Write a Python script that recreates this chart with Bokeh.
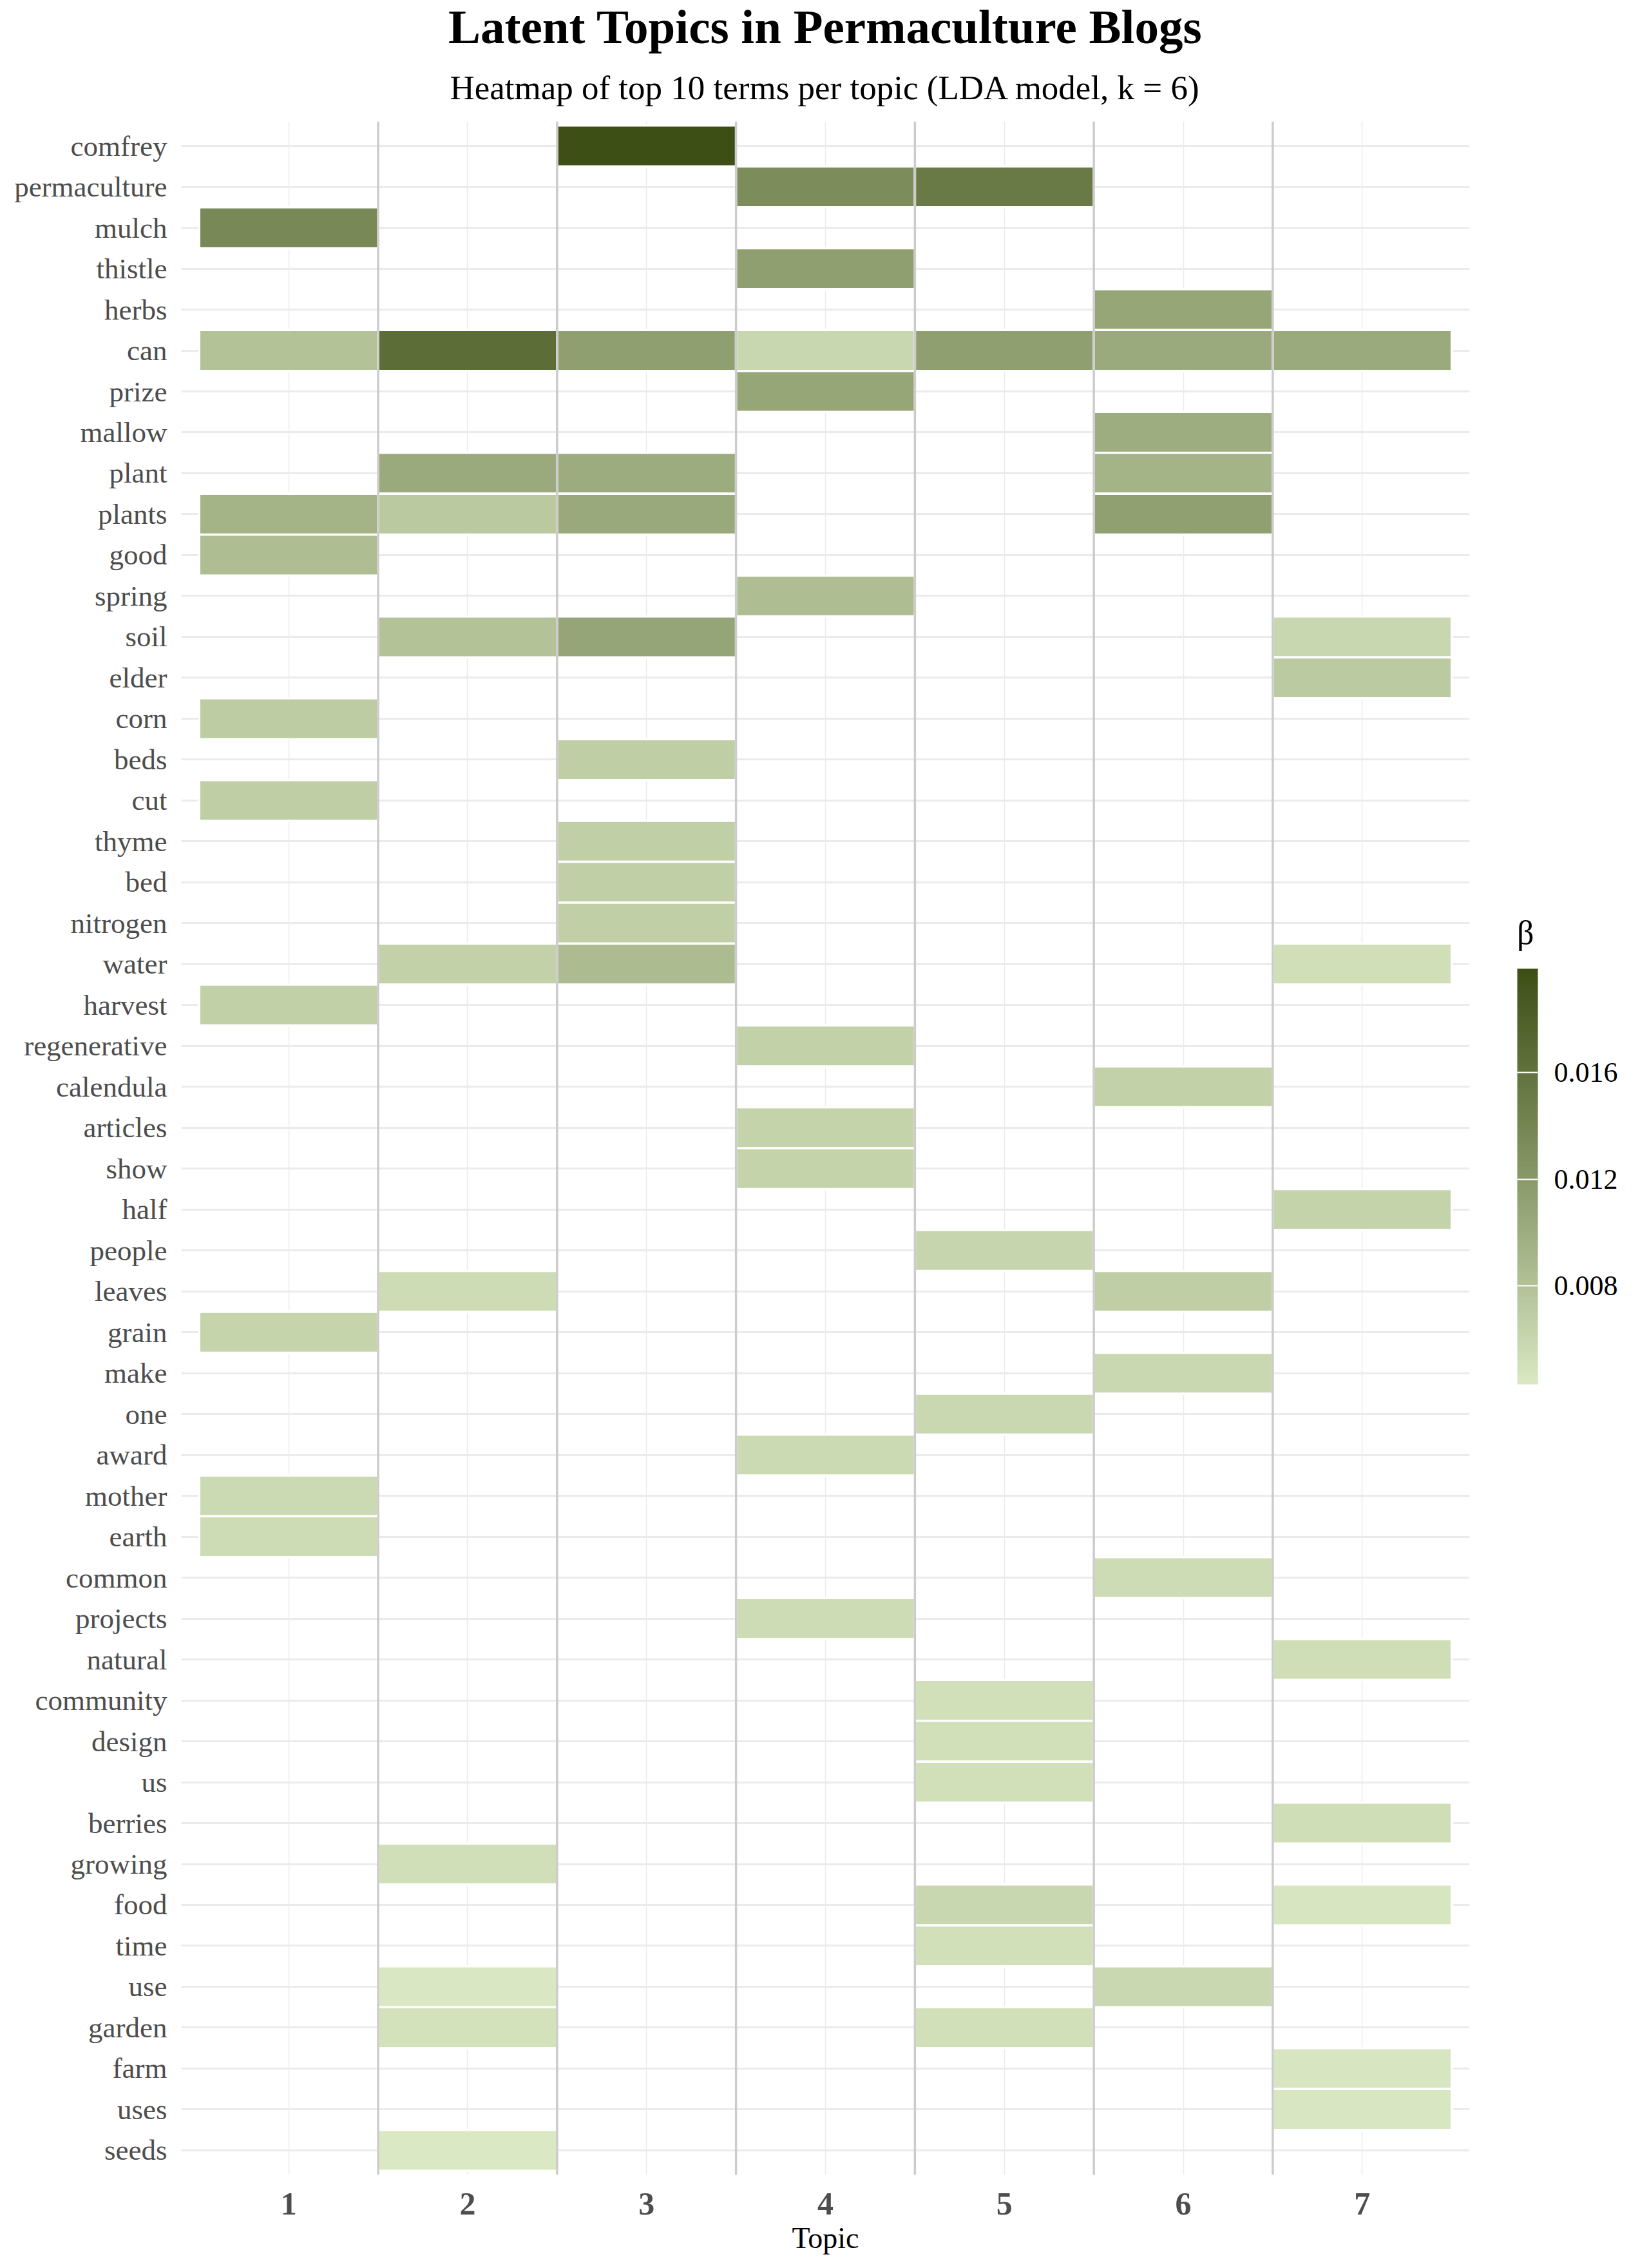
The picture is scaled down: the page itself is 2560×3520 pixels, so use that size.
import numpy as np
from bokeh.plotting import figure
from bokeh.models import (FactorRange, ColumnDataSource, LinearColorMapper, ColorBar,
                          FixedTicker, PrintfTickFormatter, Span, Title, Legend, LegendItem)
from bokeh.transform import transform
from bokeh.embed import file_html
from bokeh.resources import INLINE

# ---------------- data ----------------
title_text = "Latent Topics in Permaculture Blogs"
subtitle_text = "Heatmap of top 10 terms per topic (LDA model, k = 6)"
x_title = "Topic"
legend_title = "β"

terms = ["comfrey", "permaculture", "mulch", "thistle", "herbs", "can", "prize", "mallow",
         "plant", "plants", "good", "spring", "soil", "elder", "corn", "beds", "cut", "thyme",
         "bed", "nitrogen", "water", "harvest", "regenerative", "calendula", "articles", "show",
         "half", "people", "leaves", "grain", "make", "one", "award", "mother", "earth",
         "common", "projects", "natural", "community", "design", "us", "berries", "growing",
         "food", "time", "use", "garden", "farm", "uses", "seeds"]

topics = ["1", "2", "3", "4", "5", "6", "7"]

topic1_terms = ["mulch", "can", "plants", "good", "corn", "cut", "harvest", "grain", "mother", "earth"]
topic1_beta = [0.0137, 0.0079, 0.0093, 0.0084, 0.0070, 0.0068, 0.0066, 0.0062, 0.0057, 0.0055]

topic2_terms = ["can", "plant", "plants", "soil", "water", "leaves", "growing", "use", "garden", "seeds"]
topic2_beta = [0.0166, 0.0103, 0.0073, 0.0080, 0.0065, 0.0054, 0.0052, 0.0044, 0.0049, 0.0043]

topic3_terms = ["comfrey", "can", "plant", "plants", "soil", "beds", "thyme", "bed", "nitrogen", "water"]
topic3_beta = [0.0199, 0.0114, 0.0101, 0.0104, 0.0108, 0.0068, 0.0067, 0.0067, 0.0067, 0.0086]

topic4_terms = ["permaculture", "thistle", "can", "prize", "spring", "regenerative", "articles", "show", "award", "projects"]
topic4_beta = [0.0133, 0.0114, 0.0060, 0.0107, 0.0084, 0.0065, 0.0063, 0.0063, 0.0057, 0.0054]

topic5_terms = ["permaculture", "can", "people", "one", "community", "design", "us", "food", "time", "garden"]
topic5_beta = [0.0152, 0.0114, 0.0061, 0.0058, 0.0051, 0.0051, 0.0051, 0.0059, 0.0051, 0.0051]

topic6_terms = ["herbs", "can", "mallow", "plant", "plants", "calendula", "leaves", "make", "common", "use"]
topic6_beta = [0.0107, 0.0103, 0.0100, 0.0093, 0.0113, 0.0065, 0.0068, 0.0058, 0.0055, 0.0058]

topic7_terms = ["can", "soil", "elder", "water", "half", "natural", "berries", "food", "farm", "uses"]
topic7_beta = [0.0103, 0.0060, 0.0072, 0.0052, 0.0063, 0.0053, 0.0053, 0.0046, 0.0046, 0.0045]

colorbar_ticks = [0.008, 0.012, 0.016]
low_color = "#DAE8C3"
high_color = "#3D4F15"

# ---------------- colour ramp (CIELAB interpolation, like ggplot) ----------------
_M = np.array([[0.4124564, 0.3575761, 0.1804375],
               [0.2126729, 0.7151522, 0.0721750],
               [0.0193339, 0.1191920, 0.9503041]])
_W = np.array([0.95047, 1.0, 1.08883])


def hex_to_lab(h):
    rgb = np.array([int(h[i:i + 2], 16) for i in (1, 3, 5)]) / 255.0
    lin = np.where(rgb <= 0.04045, rgb / 12.92, ((rgb + 0.055) / 1.055) ** 2.4)
    t = (_M @ lin) / _W
    d = 6 / 29
    f = np.where(t > d ** 3, np.cbrt(t), t / (3 * d * d) + 4 / 29)
    return np.array([116 * f[1] - 16, 500 * (f[0] - f[1]), 200 * (f[1] - f[2])])


def lab_to_hex(lab):
    L, a, b = lab
    fy = (L + 16) / 116
    f = np.array([fy + a / 500, fy, fy - b / 200])
    d = 6 / 29
    t = np.where(f > d, f ** 3, 3 * d * d * (f - 4 / 29))
    lin = np.clip(np.linalg.inv(_M) @ (t * _W), 0, 1)
    rgb = np.where(lin <= 0.0031308, 12.92 * lin, 1.055 * lin ** (1 / 2.4) - 0.055)
    return "#%02x%02x%02x" % tuple(int(round(c * 255)) for c in np.clip(rgb, 0, 1))


lab_lo, lab_hi = hex_to_lab(low_color), hex_to_lab(high_color)
palette = [lab_to_hex(lab_lo + (lab_hi - lab_lo) * s) for s in np.linspace(0, 1, 256)]

# ---------------- long table ----------------
all_terms = [topic1_terms, topic2_terms, topic3_terms, topic4_terms, topic5_terms, topic6_terms, topic7_terms]
all_betas = [topic1_beta, topic2_beta, topic3_beta, topic4_beta, topic5_beta, topic6_beta, topic7_beta]
xs, ys, vals = [], [], []
for tp, tl, bl in zip(topics, all_terms, all_betas):
    for t, b in zip(tl, bl):
        xs.append(tp)
        ys.append(t)
        vals.append(b)
source = ColumnDataSource(dict(topic=xs, term=ys, beta=vals))

mapper = LinearColorMapper(palette=palette, low=min(vals), high=max(vals))

SERIF = "Liberation Serif"

p = figure(
    x_range=FactorRange(factors=topics, range_padding=0.1, range_padding_units="absolute"),
    y_range=FactorRange(factors=list(reversed(terms)), range_padding=0.1, range_padding_units="absolute"),
    frame_width=2000, frame_height=3187,
    min_border_left=281, min_border_right=279, min_border_top=185, min_border_bottom=148,
    output_backend="svg", toolbar_location=None, title=None,
)
p.background_fill_color = "white"
p.border_fill_color = "white"
p.outline_line_color = None

sub = Title(text=subtitle_text, align="center", text_font=SERIF, text_font_size="53px",
            text_font_style="normal", text_color="black", standoff=48)
main = Title(text=title_text, align="center", text_font=SERIF, text_font_size="75px",
             text_font_style="bold", text_color="black", standoff=0)
try:
    main.standoff = -5
except Exception:
    main.standoff = 0
p.add_layout(sub, "above")
p.add_layout(main, "above")

p.rect(x="topic", y="term", width=1, height=1, source=source,
       fill_color=transform("beta", mapper), line_color="white", line_width=3.5)

for b in range(1, len(topics)):
    p.add_layout(Span(location=b, dimension="height", line_color="#CCCCCC", line_width=3.5))

p.xgrid.grid_line_color = "#EBEBEB"
p.xgrid.grid_line_width = 1.5
p.ygrid.grid_line_color = "#EBEBEB"
p.ygrid.grid_line_width = 3

for ax in (p.xaxis, p.yaxis):
    ax.axis_line_color = None
    ax.major_tick_line_color = None
    ax.minor_tick_line_color = None
    ax.major_tick_out = 0
    ax.major_tick_in = 0

p.yaxis.major_label_text_font = SERIF
p.yaxis.major_label_text_font_size = "45px"
p.yaxis.major_label_text_color = "#4D4D4D"
p.yaxis.major_label_standoff = 22

p.xaxis.major_label_text_font = SERIF
p.xaxis.major_label_text_font_size = "50px"
p.xaxis.major_label_text_font_style = "bold"
p.xaxis.major_label_text_color = "#4D4D4D"
p.xaxis.major_label_standoff = 28
p.xaxis.axis_label = x_title
p.xaxis.axis_label_text_font = SERIF
p.xaxis.axis_label_text_font_size = "46px"
p.xaxis.axis_label_text_font_style = "normal"
p.xaxis.axis_label_text_color = "black"
p.xaxis.axis_label_standoff = 8

cb = ColorBar(color_mapper=mapper, ticker=FixedTicker(ticks=colorbar_ticks),
              formatter=PrintfTickFormatter(format="%.3f"),
              width=32, height=645, padding=0, location=(2074, 1227),
              major_label_text_font=SERIF, major_label_text_font_size="44px",
              major_label_text_color="black", label_standoff=25,
              major_tick_line_color="white", major_tick_line_width=2,
              major_tick_in=32, major_tick_out=0, minor_tick_line_color=None,
              bar_line_color=None, border_line_color=None, background_fill_alpha=0)
p.add_layout(cb)

# legend title (β) drawn as the title of an otherwise empty legend in the right panel
ghost = p.rect(x=[], y=[], width=1, height=1, fill_alpha=0, line_alpha=0)
leg = Legend(items=[LegendItem(label=" ", renderers=[ghost])], title=legend_title,
             location=(74, 1897), title_text_font=SERIF, title_text_font_size="52px",
             title_text_font_style="normal", title_text_color="black", title_standoff=0,
             label_text_font_size="1px", label_height=1, label_width=1, glyph_height=1,
             glyph_width=1, spacing=0, padding=0, margin=0, label_standoff=0,
             border_line_color=None, background_fill_alpha=0, inactive_fill_alpha=0)
p.add_layout(leg, "right")

open("out.html", "w").write(file_html(p, INLINE))
